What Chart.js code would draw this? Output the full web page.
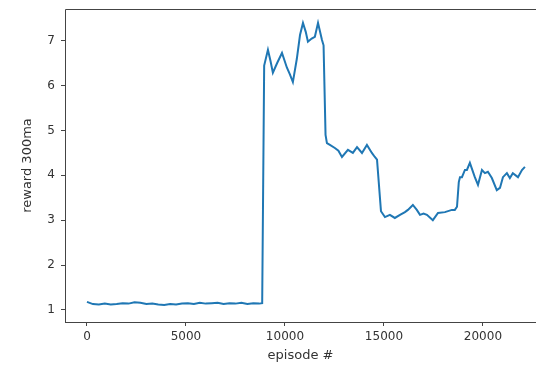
<!DOCTYPE html>
<html lang="en">
<head>
    <meta charset="UTF-8">
    <title>reward 300ma</title>
    <script src="https://cdn.jsdelivr.net/npm/chart.js"></script>
    <style>
        html, body { margin: 0; padding: 0; background: #fff; overflow: hidden; }
    </style>
</head>
<body>
    <canvas id="rewardChart" width="536" height="365"></canvas>

    <script>
        // episode numbers and the 300-episode moving average of reward
        const episodes = [
            0, 300, 600, 900, 1200, 1500, 1800, 2100, 2400, 2700, 3000, 3300, 3600, 3900,
            4200, 4500, 4800, 5100, 5400, 5700, 6000, 6300, 6600, 6900, 7200, 7500, 7800,
            8100, 8400, 8700, 8850,
            8950, 9140, 9270, 9390, 9600, 9850, 10100, 10250, 10400, 10600, 10760, 10910,
            11050, 11160, 11350, 11510, 11670, 11870, 11950,
            12050, 12120, 12270, 12520, 12700, 12880, 13180, 13430, 13640, 13890, 14140,
            14390, 14540, 14650,
            14850, 15050, 15300, 15550, 15810, 16060, 16210, 16460, 16660, 16820, 17000,
            17170, 17470, 17730, 18080, 18430, 18580, 18690,
            18780, 18840, 18940, 19090, 19190, 19340, 19590, 19750, 19950, 20100, 20250,
            20450, 20700, 20860, 21010, 21210, 21360, 21510, 21770, 21970, 22120
        ];
        const rewards = [
            1.18, 1.13, 1.12, 1.14, 1.12, 1.13, 1.15, 1.14, 1.17, 1.16, 1.13, 1.14, 1.12, 1.11,
            1.13, 1.12, 1.14, 1.15, 1.13, 1.16, 1.14, 1.15, 1.16, 1.13, 1.15, 1.14, 1.16,
            1.13, 1.15, 1.14, 1.15,
            6.45, 6.80, 6.55, 6.29, 6.50, 6.73, 6.40, 6.25, 6.08, 6.60, 7.13, 7.40,
            7.20, 6.98, 7.05, 7.09, 7.40, 7.02, 6.90,
            4.90, 4.72, 4.68, 4.61, 4.55, 4.41, 4.57, 4.50, 4.63, 4.50, 4.68,
            4.50, 4.41, 4.35,
            3.20, 3.07, 3.12, 3.05, 3.12, 3.18, 3.23, 3.34, 3.23, 3.12, 3.15,
            3.12, 3.00, 3.16, 3.18, 3.23, 3.23, 3.30,
            3.85, 3.96, 3.96, 4.12, 4.12, 4.28, 3.96, 3.79, 4.12, 4.05, 4.08,
            3.94, 3.67, 3.72, 3.96, 4.05, 3.94, 4.05, 3.96, 4.12, 4.19
        ];
        const xTicks = [0, 5000, 10000, 15000, 20000];
        const yTicks = [1, 2, 3, 4, 5, 6, 7];

        const points = episodes.map((e, i) => ({ x: e, y: rewards[i] }));

        // matplotlib style box around the plot area (right side is cut off in the picture)
        const frame = {
            id: 'frame',
            afterDraw(chart) {
                const { ctx, chartArea: a } = chart;
                ctx.save();
                ctx.strokeStyle = '#444';
                ctx.lineWidth = 1;
                ctx.beginPath();
                ctx.moveTo(a.left + 0.5, a.bottom + 0.5);
                ctx.lineTo(a.left + 0.5, a.top + 0.5);
                ctx.lineTo(a.right + 2, a.top + 0.5);
                ctx.moveTo(a.left, a.bottom + 0.5);
                ctx.lineTo(a.right + 2, a.bottom + 0.5);
                ctx.stroke();
                ctx.restore();
            }
        };

        const tickFont = { family: 'DejaVu Sans', size: 12 };
        const titleFont = { family: 'DejaVu Sans', size: 13 };

        const ctx = document.getElementById('rewardChart').getContext('2d');
        const rewardChart = new Chart(ctx, {
            type: 'line',
            data: {
                datasets: [{
                    label: 'reward 300ma',
                    data: points,
                    borderColor: '#1f77b4',
                    borderWidth: 2,
                    pointRadius: 0,
                    tension: 0,
                    fill: false
                }]
            },
            options: {
                responsive: false,
                animation: false,
                layout: { padding: { top: 9, left: 0, right: 0, bottom: 0 } },
                plugins: {
                    legend: { display: false },
                    tooltip: { enabled: false }
                },
                scales: {
                    x: {
                        type: 'linear',
                        min: -1110,
                        max: 22680,
                        afterBuildTicks: s => { s.ticks = xTicks.map(v => ({ value: v })); },
                        afterFit: s => { s.height = 43; s.paddingLeft = 0; s.paddingRight = 0; },
                        grid: { display: true, drawOnChartArea: false, tickLength: 4, color: '#444' },
                        border: { display: false },
                        ticks: { font: tickFont, color: '#333', padding: 4, maxRotation: 0, callback: v => String(v) },
                        title: { display: true, text: 'episode #', font: titleFont, color: '#333', padding: { top: 0, bottom: 2 } }
                    },
                    y: {
                        min: 0.73,
                        max: 7.71,
                        afterBuildTicks: s => { s.ticks = yTicks.map(v => ({ value: v })); },
                        afterFit: s => { s.width = 65; s.paddingTop = 0; s.paddingBottom = 0; },
                        grid: { display: true, drawOnChartArea: false, tickLength: 4, color: '#444' },
                        border: { display: false },
                        ticks: { font: tickFont, color: '#333', padding: 6, callback: v => String(v) },
                        title: { display: true, text: 'reward 300ma', font: titleFont, color: '#333', padding: { top: 20, bottom: 0 } }
                    }
                }
            },
            plugins: [frame]
        });
    </script>
</body>
</html>
